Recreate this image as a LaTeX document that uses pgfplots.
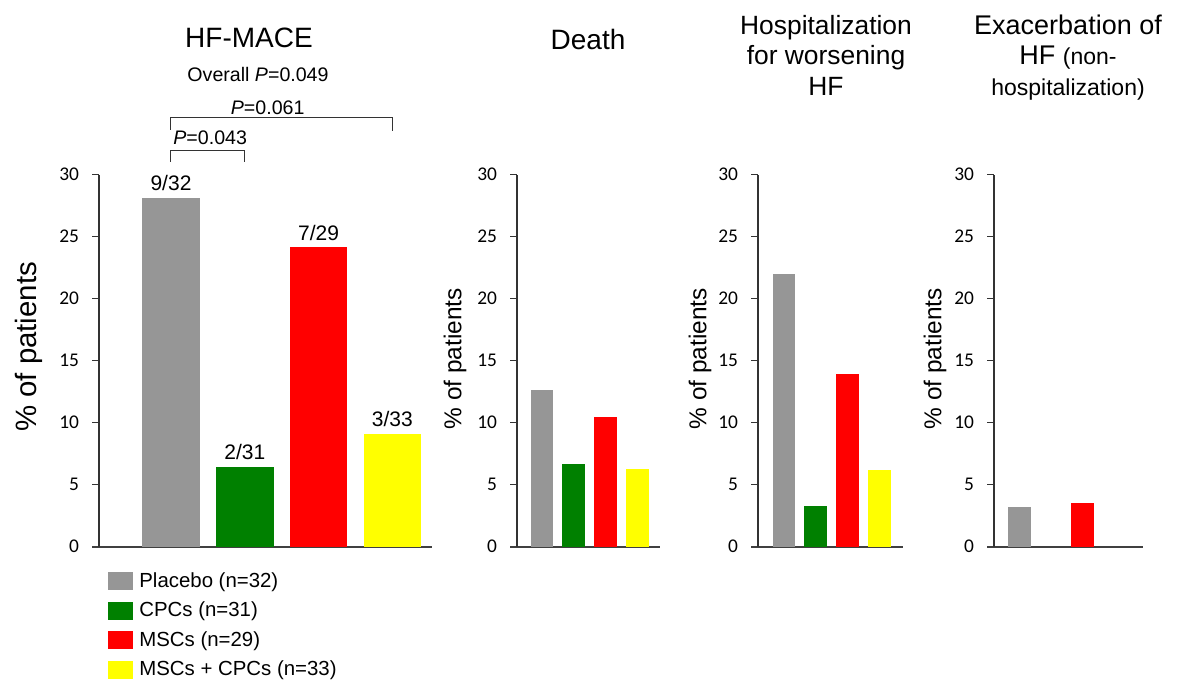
\documentclass[border=0pt]{standalone}
\usepackage{pgfplots}
\pgfplotsset{compat=1.18}
\usepackage{fontspec}
\setmainfont{Liberation Sans}
\newfontfamily\calibri{Carlito}
\definecolor{cgray}{RGB}{150,150,150}
\definecolor{cgreen}{RGB}{0,128,0}
\definecolor{cred}{RGB}{255,0,0}
\definecolor{cyellow}{RGB}{255,255,0}
\pgfplotsset{
  panel/.style={
    scale only axis, anchor=south west,
    height=186pt, ymin=0, ymax=30, ytick={0,5,...,30},
    axis lines=left,
    axis line style={-, black!80, line width=0.55pt},
    x axis line style={shorten <=-3.5pt, line width=0.8pt, black!75},
    xtick=\empty, tick align=outside, major tick length=3.5pt,
    ytick style={black!80, line width=0.5pt},
    yticklabel style={font=\calibri\fontsize{9.7}{10}\selectfont, xshift=-3pt},
    /pgf/number format/assume math mode=true,
    ybar, bar shift=0pt, clip=false,
    ylabel={\% of patients},
  }
}
\begin{document}
\begin{tikzpicture}[x=0.5pt,y=0.5pt]
% Panel 1: HF-MACE
\begin{axis}[panel, at={(49.5pt,69.15pt)}, width=166.5pt,
  xmin=0.024, xmax=4.538, bar width=0.78,
  ylabel style={font=\fontsize{14.7}{16}\selectfont, at={(axis description cs:-0.21,0.537)}, anchor=center},
  every node near coord/.style={font=\fontsize{10.5}{12}\selectfont, text=black},
  legend style={at={(axis description cs:0.027,-0.0573)}, anchor=north west, draw=none, fill=none,
    inner sep=0pt, font=\fontsize{10.2}{12}\selectfont, row sep=1.9pt,
    cells={anchor=west},
    /tikz/every odd column/.append style={column sep=1pt}},
  legend image code/.code={\fill[#1] (0pt,-4.5pt) rectangle (12.5pt,4.5pt);},
]
\addplot[fill=cgray, draw=none, nodes near coords={9/32}] coordinates {(1,28.13)};
\addplot[fill=cgreen, draw=none, nodes near coords={2/31}] coordinates {(2,6.45)};
\addplot[fill=cred, draw=none, nodes near coords={7/29}] coordinates {(3,24.14)};
\addplot[fill=cyellow, draw=none, nodes near coords={3/33}] coordinates {(4,9.09)};
\legend{Placebo (n=32), CPCs (n=31), MSCs (n=29), MSCs + CPCs (n=33)}
\end{axis}
% Panel 2: Death
\begin{axis}[panel, at={(258.5pt,69.15pt)}, width=71.5pt,
  xmin=0.212, xmax=4.72, bar width=0.72,
  ylabel style={font=\fontsize{12.2}{14}\selectfont, at={(axis description cs:-0.434,0.505)}, anchor=center},
]
\addplot[fill=cgray, draw=none] coordinates {(1,12.6)};
\addplot[fill=cgreen, draw=none] coordinates {(2,6.65)};
\addplot[fill=cred, draw=none] coordinates {(3,10.43)};
\addplot[fill=cyellow, draw=none] coordinates {(4,6.24)};
\end{axis}
% Panel 3: Hospitalization
\begin{axis}[panel, at={(379pt,69.15pt)}, width=72.5pt,
  xmin=0.183, xmax=4.738, bar width=0.72,
  ylabel style={font=\fontsize{12.2}{14}\selectfont, at={(axis description cs:-0.4,0.505)}, anchor=center},
]
\addplot[fill=cgray, draw=none] coordinates {(1,22.0)};
\addplot[fill=cgreen, draw=none] coordinates {(2,3.32)};
\addplot[fill=cred, draw=none] coordinates {(3,13.9)};
\addplot[fill=cyellow, draw=none] coordinates {(4,6.22)};
\end{axis}
% Panel 4: Exacerbation
\begin{axis}[panel, at={(497pt,69.15pt)}, width=74.5pt,
  xmin=0.19, xmax=4.92, bar width=0.72,
  ylabel style={font=\fontsize{12.2}{14}\selectfont, at={(axis description cs:-0.396,0.505)}, anchor=center},
]
\addplot[fill=cgray, draw=none] coordinates {(1,3.17)};
\addplot[fill=cred, draw=none] coordinates {(3,3.55)};
\end{axis}
% Titles
\node[font=\fontsize{14}{16}\selectfont, anchor=base] at (249,637) {HF-MACE};
\node[font=\fontsize{9.8}{12}\selectfont, anchor=base] at (258,603) {Overall \textit{P}=0.049};
\node[font=\fontsize{9.8}{12}\selectfont, anchor=base] at (267.7,570) {\textit{P}=0.061};
\node[font=\fontsize{9.8}{12}\selectfont, anchor=base west, inner sep=0pt] at (173,540) {\textit{P}=0.043};
\draw[black!80, line width=0.5pt] (170.7,555) -- (170.7,567.3) -- (392.7,567.3) -- (392.7,554.3);
\draw[black!80, line width=0.5pt] (170.7,523) -- (170.7,534.3) -- (244,534.3) -- (244,522.7);
\node[font=\fontsize{14}{16}\selectfont, anchor=base] at (588,635) {Death};
\node[font=\fontsize{13.2}{15}\selectfont, anchor=base] at (826,650) {Hospitalization};
\node[font=\fontsize{13.2}{15}\selectfont, anchor=base] at (826,620) {for worsening};
\node[font=\fontsize{13.2}{15}\selectfont, anchor=base] at (826,589) {HF};
\node[font=\fontsize{13.5}{15}\selectfont, anchor=base] at (1068,650) {Exacerbation of};
\node[font=\fontsize{13.5}{15}\selectfont, anchor=base] at (1068,620) {HF {\fontsize{11.5}{13}\selectfont(non-}};
\node[font=\fontsize{11.5}{13}\selectfont, anchor=base] at (1068,589) {hospitalization)};
\pgfresetboundingbox
\path[use as bounding box] (0,0) rectangle (1181,685);
\end{tikzpicture}
\end{document}
